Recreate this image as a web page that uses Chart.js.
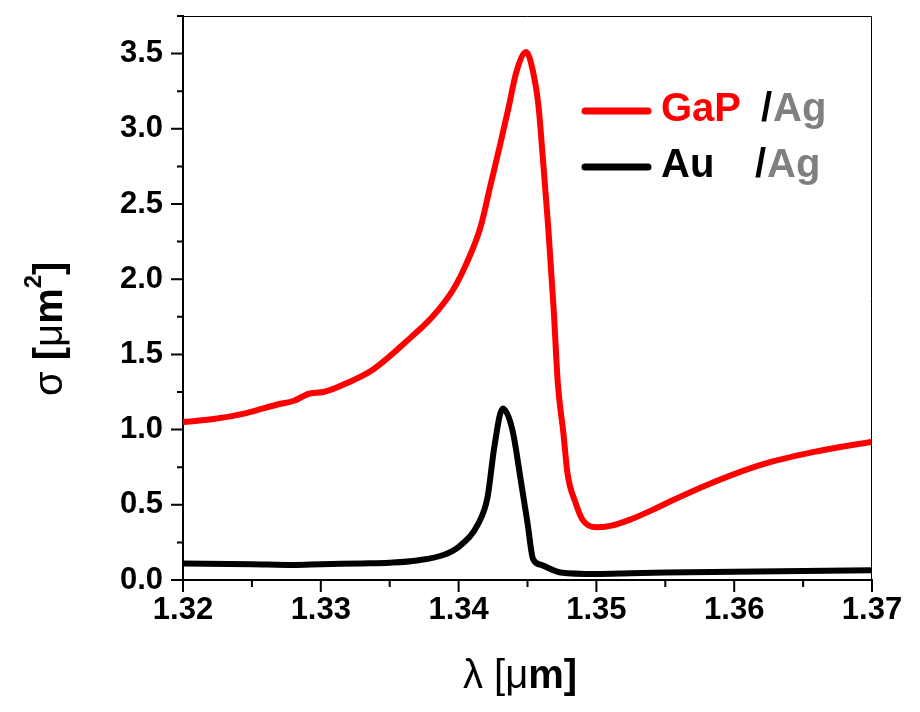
<!DOCTYPE html>
<html>
<head>
<meta charset="utf-8">
<script src="https://cdn.jsdelivr.net/npm/chart.js@4.4.0/dist/chart.umd.min.js"></script>
<style>
  html, body { margin: 0; padding: 0; background: #fff; }
  canvas { display: block; }
</style>
</head>
<body>
<canvas id="sigmaChart" width="920" height="712"></canvas>
<script>
// wavelength (um) and cross section (um^2)
const gapLambda = [1.3200, 1.3222, 1.3246, 1.3270, 1.3280, 1.3292, 1.3302, 1.3319, 1.3338, 1.3365, 1.3381, 1.3396,
  1.3406, 1.3416, 1.3423, 1.3430, 1.3436, 1.3442, 1.3449, 1.3454, 1.3458, 1.3461, 1.3465, 1.3469, 1.3472, 1.3476,
  1.3479, 1.3485, 1.3490, 1.3500, 1.3510, 1.3524, 1.3544, 1.3553, 1.3585, 1.3621, 1.3657, 1.3700];
const gapSigma = [1.05, 1.07, 1.11, 1.17, 1.19, 1.24, 1.25, 1.31, 1.40, 1.61, 1.75, 1.93,
  2.11, 2.35, 2.62, 2.89, 3.13, 3.38, 3.51, 3.38, 3.15, 2.82, 2.35, 1.80, 1.31, 0.98,
  0.71, 0.51, 0.40, 0.35, 0.36, 0.40, 0.48, 0.52, 0.65, 0.77, 0.85, 0.92];

const auLambda = [1.320, 1.325, 1.328, 1.330, 1.333, 1.335, 1.337, 1.339, 1.340, 1.3414, 1.3421, 1.3426, 1.3432,
  1.3439, 1.3445, 1.3450, 1.3454, 1.3460, 1.3474, 1.350, 1.3525, 1.355, 1.360, 1.365, 1.370];
const auSigma = [0.11, 0.105, 0.10, 0.105, 0.11, 0.115, 0.13, 0.17, 0.22, 0.37, 0.55, 0.89, 1.14,
  1.00, 0.67, 0.38, 0.14, 0.10, 0.05, 0.04, 0.045, 0.05, 0.055, 0.06, 0.065];

const xTickLabels = ["1.32", "1.33", "1.34", "1.35", "1.36", "1.37"];
const yTickLabels = ["0.0", "0.5", "1.0", "1.5", "2.0", "2.5", "3.0", "3.5"];

function toPoints(xs, ys) {
  return xs.map((x, i) => ({ x: x, y: ys[i] }));
}

function isMajor(v, step) {
  const n = v / step;
  return Math.abs(n - Math.round(n)) < 1e-6;
}

const SANS = "'Liberation Sans', Arial, sans-serif";

// outward major/minor ticks plus the thin box frame
const frameTicks = {
  id: "frameTicks",
  afterDraw(chart) {
    const ctx = chart.ctx;
    const a = chart.chartArea;
    const xs = chart.scales.x, ys = chart.scales.y;
    ctx.save();
    ctx.strokeStyle = "#000";
    ctx.lineWidth = 1;
    ctx.beginPath();
    ctx.moveTo(a.left, a.top + 0.5);
    ctx.lineTo(a.right - 0.5, a.top + 0.5);
    ctx.lineTo(a.right - 0.5, a.bottom);
    ctx.stroke();
    ctx.lineWidth = 2;
    ctx.beginPath();
    xs.ticks.forEach((t) => {
      const px = xs.getPixelForValue(t.value);
      const len = isMajor(t.value, 0.01) ? 12 : 7;
      ctx.moveTo(px, a.bottom);
      ctx.lineTo(px, a.bottom + len);
    });
    ys.ticks.forEach((t) => {
      const py = ys.getPixelForValue(t.value);
      const len = isMajor(t.value, 0.5) ? 12 : 6;
      ctx.moveTo(a.left, py);
      ctx.lineTo(a.left - len, py);
    });
    ctx.stroke();
    ctx.restore();
  },
};

// mixed-weight axis titles: [text, weight, size, raise]
const xTitleParts = [["λ ", "normal", 40, 0], ["[μ", "normal", 40, 0], ["m]", "bold", 40, 0]];
const yTitleParts = [["σ ", "normal", 40, 0], ["[", "bold", 40, 0], ["μ", "normal", 40, 0], ["m", "bold", 40, 0],
  ["2", "bold", 24, 21], ["]", "bold", 40, 0]];

function drawParts(ctx, parts) {
  let x = 0;
  parts.forEach((p) => {
    ctx.font = p[1] + " " + p[2] + "px " + SANS;
    ctx.fillText(p[0], x, -p[3]);
    x += ctx.measureText(p[0]).width;
  });
}

const axisTitles = {
  id: "axisTitles",
  afterDraw(chart) {
    const ctx = chart.ctx;
    ctx.save();
    ctx.fillStyle = "#000";
    ctx.textBaseline = "alphabetic";
    ctx.translate(463, 688);
    drawParts(ctx, xTitleParts);
    ctx.restore();

    ctx.save();
    ctx.fillStyle = "#000";
    ctx.textBaseline = "alphabetic";
    ctx.translate(62, 396);
    ctx.rotate(-Math.PI / 2);
    drawParts(ctx, yTitleParts);
    ctx.restore();
  },
};

// legend with two-colour labels
const legendRows = [
  { color: "#ff0000", parts: [["GaP", "#ff0000", 661], ["/", "#000000", 761], ["Ag", "#808080", 773]] },
  { color: "#000000", parts: [["Au", "#000000", 661], ["/", "#000000", 755], ["Ag", "#808080", 767]] },
];
const twoTone = {
  id: "twoTone",
  afterDraw(chart) {
    const ctx = chart.ctx;
    ctx.save();
    ctx.font = "bold 40px " + SANS;
    ctx.textBaseline = "alphabetic";
    ctx.lineCap = "round";
    legendRows.forEach((row, i) => {
      const lineY = 111 + i * 56;
      ctx.strokeStyle = row.color;
      ctx.lineWidth = 7;
      ctx.beginPath();
      ctx.moveTo(585, lineY);
      ctx.lineTo(648, lineY);
      ctx.stroke();
      row.parts.forEach((p) => {
        ctx.fillStyle = p[1];
        ctx.fillText(p[0], p[2], lineY + 10);
      });
    });
    ctx.restore();
  },
};

const tickFont = { family: SANS, size: 31, weight: "bold" };

const ctx = document.getElementById("sigmaChart").getContext("2d");
const sigmaChart = new Chart(ctx, {
  type: "line",
  data: {
    datasets: [
      {
        label: "GaP /Ag",
        data: toPoints(gapLambda, gapSigma),
        borderColor: "#ff0000",
        borderWidth: 6,
        pointRadius: 0,
        cubicInterpolationMode: "monotone",
        fill: false,
      },
      {
        label: "Au /Ag",
        data: toPoints(auLambda, auSigma),
        borderColor: "#000000",
        borderWidth: 6,
        pointRadius: 0,
        cubicInterpolationMode: "monotone",
        fill: false,
      },
    ],
  },
  options: {
    responsive: false,
    animation: false,
    layout: { padding: { top: 16, right: 48, left: 0, bottom: 0 } },
    plugins: { legend: { display: false }, tooltip: { enabled: false } },
    scales: {
      x: {
        type: "linear",
        min: 1.32,
        max: 1.37,
        afterFit: (s) => {
          s.height = 132;
          s.paddingLeft = 0;
          s.paddingRight = 0;
        },
        afterBuildTicks: (s) => {
          const t = [];
          for (let i = 0; i <= 10; i++) t.push({ value: 1.32 + i * 0.005 });
          s.ticks = t;
        },
        ticks: {
          autoSkip: false,
          maxRotation: 0,
          padding: 12,
          color: "#000",
          font: tickFont,
          callback: (v) => (isMajor(v, 0.01) ? xTickLabels[Math.round((v - 1.32) / 0.01)] : ""),
        },
        grid: { drawOnChartArea: false, drawTicks: false },
        border: { color: "#000", width: 2 },
      },
      y: {
        min: 0,
        max: 3.75,
        afterFit: (s) => {
          s.width = 183;
          s.paddingTop = 0;
          s.paddingBottom = 0;
        },
        afterBuildTicks: (s) => {
          const t = [];
          for (let i = 0; i <= 15; i++) t.push({ value: i * 0.25 });
          s.ticks = t;
        },
        ticks: {
          autoSkip: false,
          padding: 20,
          color: "#000",
          font: tickFont,
          callback: (v) => (isMajor(v, 0.5) ? yTickLabels[Math.round(v / 0.5)] : ""),
        },
        grid: { drawOnChartArea: false, drawTicks: false },
        border: { color: "#000", width: 2 },
      },
    },
  },
  plugins: [frameTicks, axisTitles, twoTone],
});
</script>
</body>
</html>
